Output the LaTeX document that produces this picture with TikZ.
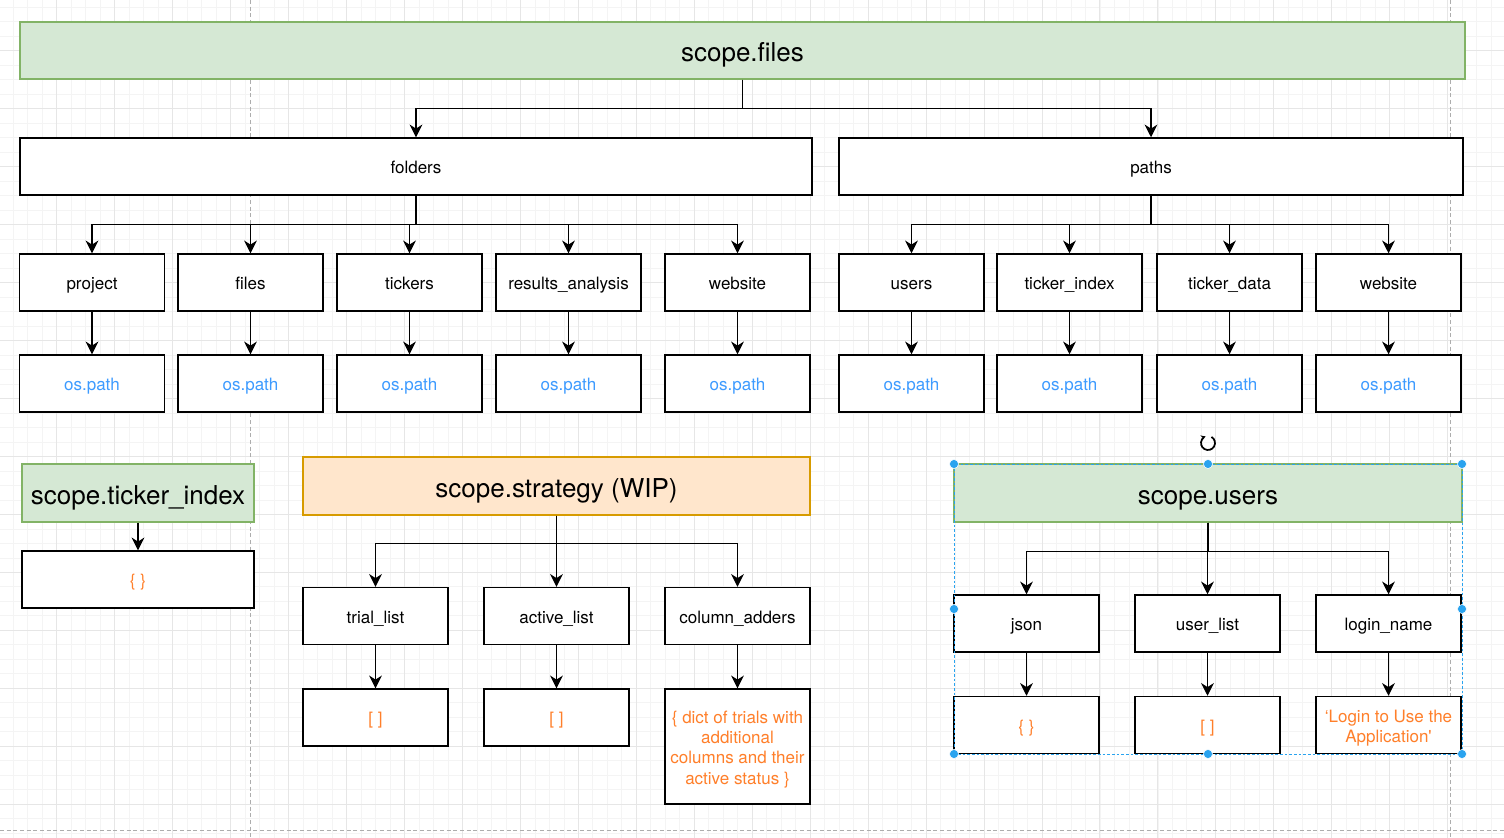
\documentclass[tikz,border=0pt]{standalone}
\usepackage{fontspec}
\setmainfont{TeX Gyre Heros}
\usetikzlibrary{arrows.meta}

\definecolor{scopegreen}{HTML}{D5E8D4}
\definecolor{scopegreenline}{HTML}{82B366}
\definecolor{wiporange}{HTML}{FFE6CC}
\definecolor{wiporangeline}{HTML}{D79B00}
\definecolor{pathblue}{HTML}{3D9BFF}
\definecolor{dataorange}{HTML}{FF7F2A}
\definecolor{selblue}{HTML}{29A3EF}
\definecolor{gridminor}{HTML}{F4F4F4}
\definecolor{gridmajor}{HTML}{E6E6E6}

\tikzset{
    box/.style={draw, line width=1.1pt, fill=white, minimum width=108.75pt, minimum height=42.75pt,
        inner sep=1pt, align=center, text height=13.5pt, text depth=2.5pt,
        font=\fontsize{12.75}{15.2}\selectfont},
    multiline/.style={text height={}, text depth={}},
    scopebox/.style={box, fill=scopegreen, draw=scopegreenline, text height=19.5pt, text depth=2.7pt,
        font=\fontsize{19.5}{22}\selectfont},
    wipbox/.style={scopebox, fill=wiporange, draw=wiporangeline},
    pathval/.style={box, text=pathblue},
    dataval/.style={box, text=dataorange},
    arr/.style={line width=1.1pt, -{Stealth[length=9.5pt, width=9.5pt, inset=3pt]}},
    pagebreak/.style={draw=black!32, line width=0.6pt, dash pattern=on 3pt off 2pt},
}
\newcommand{\stacked}[1]{\raisebox{-2.4pt}[\height][\depth]{\begin{tabular}{@{}c@{}}#1\end{tabular}}}

\begin{document}
\begin{tikzpicture}[x=0.75pt, y=-0.75pt]
    \useasboundingbox (0,0) rectangle (1504,838);
    % background grid
    \foreach \i in {0,...,105} \draw[gridminor, line width=0.6pt] ({-1.1+\i*14.4875},0) -- ++(0,838);
    \foreach \i in {0,...,59} \draw[gridminor, line width=0.6pt] (0,{-7.1+\i*14.4875}) -- ++(1504,0);
    \foreach \i in {0,...,26} \draw[gridmajor, line width=0.7pt] ({-1.1+\i*57.95},0) -- ++(0,838);
    \foreach \i in {0,...,15} \draw[gridmajor, line width=0.7pt] (0,{-7.1+\i*57.95}) -- ++(1504,0);
    \draw[pagebreak] (250.3,0) -- (250.3,838);
    \draw[pagebreak] (1450,0) -- (1450,838);
    \draw[pagebreak] (0,830) -- (1504,830);

    % scope.files
    \node[scopebox, minimum width=1083.75pt] (sfiles) at (742.5,50.5) {scope.files};
    \node[box, minimum width=594pt] (folders) at (416,166.5) {folders};
    \node[box, minimum width=468pt] (paths) at (1151,166.5) {paths};
    \draw[arr] (sfiles.south) -- ++(0,29) -| (folders.north);
    \draw[arr] (sfiles.south) -- ++(0,29) -| (paths.north);
    \foreach \n/\t/\x in {fproject/project/92, ffiles/files/250.5, ftickers/tickers/409.5,
            fresults/results\_analysis/568.5, fwebsite/website/737.5} {
        \node[box] (\n) at (\x,282.5) {\t};
        \node[pathval] (\n-v) at (\x,383.5) {os.path};
        \draw[arr] (folders.south) -- ++(0,29) -| (\n.north);
        \draw[arr] (\n.south) -- (\n-v.north);
    }
    \foreach \n/\t/\x in {pusers/users/911.5, pindex/ticker\_index/1069.5,
            pdata/ticker\_data/1229.5, pwebsite/website/1388.5} {
        \node[box] (\n) at (\x,282.5) {\t};
        \node[pathval] (\n-v) at (\x,383.5) {os.path};
        \draw[arr] (paths.south) -- ++(0,29) -| (\n.north);
        \draw[arr] (\n.south) -- (\n-v.north);
    }

    % scope.ticker_index
    \node[scopebox, minimum width=174pt, minimum height=43.5pt] (sindex) at (138,493) {scope.ticker\_index};
    \node[dataval, minimum width=174pt] (sindex-v) at (138,579.5) {\{ \}};
    \draw[arr] (sindex.south) -- (sindex-v.north);

    % scope.strategy
    \node[wipbox, minimum width=380.25pt, minimum height=43.5pt] (sstrat) at (556.5,486) {scope.strategy (WIP)};
    \node[box] (trial) at (375.5,616) {trial\_list};
    \node[box] (active) at (556.5,616) {active\_list};
    \node[box] (adders) at (737.5,616) {column\_adders};
    \node[dataval] (trial-v) at (375.5,717.5) {[ ]};
    \node[dataval] (active-v) at (556.5,717.5) {[ ]};
    \node[dataval, multiline, minimum height=86.25pt] (adders-v) at (737.5,746.5)
        {\stacked{\{ dict of trials with\\additional\\columns and their\\active status \}}};
    \foreach \n in {trial,active,adders} {
        \draw[arr] (sstrat.south) -- ++(0,28) -| (\n.north);
        \draw[arr] (\n.south) -- (\n-v.north);
    }

    % scope.users
    \node[scopebox, minimum width=381pt, minimum height=43.5pt] (susers) at (1208,493) {scope.users};
    \node[box] (json) at (1026.5,623.5) {json};
    \node[box] (ulist) at (1207.5,623.5) {user\_list};
    \node[box] (login) at (1388.5,623.5) {login\_name};
    \node[dataval] (json-v) at (1026.5,725) {\{ \}};
    \node[dataval] (ulist-v) at (1207.5,725) {[ ]};
    \node[dataval, multiline] (login-v) at (1388.5,725) {\stacked{‘Login to Use the\\Application\textquotesingle}};
    \foreach \n in {json,ulist,login} {
        \draw[arr] (susers.south) -- ++(0,29) -| (\n.north);
        \draw[arr] (\n.south) -- (\n-v.north);
    }

    % selection frame
    \draw[selblue, line width=0.6pt, dash pattern=on 2pt off 1.5pt] (954,464) rectangle (1462,754);
    \foreach \x/\y in {954/464, 1208/464, 1462/464, 954/609, 1462/609, 954/754, 1208/754, 1462/754}
        \fill[selblue, draw=white, line width=0.4pt] (\x,\y) circle (3.4pt);
    \draw[line width=1.3pt, -{Stealth[length=3.5pt, width=4pt]}] (1208,443) ++(-60:7) arc (-60:250:7);
\end{tikzpicture}
\end{document}
